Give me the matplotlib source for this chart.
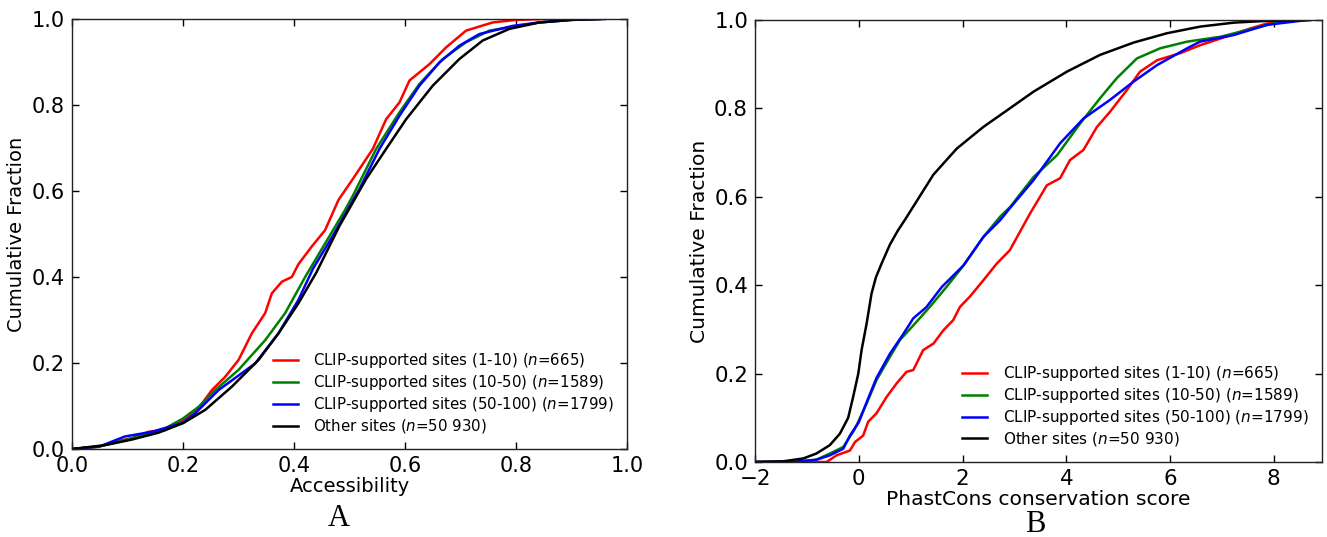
import matplotlib
matplotlib.use('Agg')
import matplotlib.pyplot as plt
from matplotlib.ticker import FormatStrFormatter

# ---- Panel A: accessibility CDFs ----
acc_red_x = [0.0, 0.047, 0.077, 0.108, 0.138, 0.168, 0.2, 0.228, 0.252, 0.276, 0.30, 0.324, 0.348,
             0.36, 0.378, 0.396, 0.408, 0.432, 0.456, 0.48, 0.506, 0.542, 0.566, 0.59, 0.608, 0.644,
             0.674, 0.71, 0.758, 0.80, 0.85]
acc_red_y = [0.0, 0.005, 0.017, 0.025, 0.040, 0.044, 0.067, 0.095, 0.137, 0.168, 0.207, 0.269, 0.316,
             0.362, 0.389, 0.40, 0.43, 0.471, 0.509, 0.579, 0.628, 0.698, 0.767, 0.806, 0.857, 0.895,
             0.934, 0.973, 0.992, 0.998, 1.0]

acc_green_x = [0.0, 0.047, 0.108, 0.168, 0.2, 0.228, 0.258, 0.30, 0.348, 0.384, 0.42, 0.456, 0.492,
               0.506, 0.548, 0.59, 0.626, 0.668, 0.71, 0.752, 0.842, 0.9, 0.95]
acc_green_y = [0.0, 0.005, 0.025, 0.048, 0.071, 0.098, 0.137, 0.184, 0.253, 0.316, 0.40, 0.478, 0.556,
               0.589, 0.698, 0.783, 0.849, 0.907, 0.946, 0.973, 0.992, 0.998, 1.0]

acc_blue_x = [0.0, 0.05, 0.095, 0.144, 0.2, 0.222, 0.264, 0.33, 0.372, 0.408, 0.434, 0.47, 0.518,
              0.554, 0.59, 0.626, 0.662, 0.698, 0.734, 0.794, 0.842, 0.9, 0.95]
acc_blue_y = [0.0, 0.006, 0.029, 0.04, 0.061, 0.083, 0.137, 0.199, 0.269, 0.347, 0.419, 0.496, 0.605,
              0.698, 0.775, 0.845, 0.899, 0.938, 0.965, 0.984, 0.992, 0.998, 1.0]

acc_black_x = [0.0, 0.06, 0.108, 0.156, 0.2, 0.24, 0.288, 0.336, 0.372, 0.408, 0.44, 0.482, 0.53,
               0.566, 0.602, 0.65, 0.698, 0.74, 0.788, 0.842, 0.9, 0.96]
acc_black_y = [0.0, 0.009, 0.022, 0.038, 0.06, 0.091, 0.145, 0.207, 0.269, 0.339, 0.41, 0.519, 0.628,
               0.698, 0.767, 0.845, 0.907, 0.95, 0.977, 0.992, 0.998, 1.0]

# ---- Panel B: PhastCons CDFs ----
pc_red_x = [-2.0, -0.62, -0.43, -0.17, -0.075, 0.085, 0.18, 0.34, 0.535, 0.73, 0.92, 1.05, 1.24, 1.44,
            1.63, 1.82, 1.95, 2.14, 2.40, 2.66, 2.91, 3.30, 3.625, 3.88, 4.07, 4.33, 4.59, 4.84, 5.17,
            5.42, 5.75, 6.20, 6.58, 6.97, 7.55, 7.87, 8.25, 8.5]
pc_red_y = [0.0, 0.0, 0.015, 0.026, 0.045, 0.06, 0.091, 0.11, 0.147, 0.178, 0.204, 0.208, 0.253, 0.268,
            0.298, 0.321, 0.351, 0.374, 0.411, 0.449, 0.479, 0.562, 0.626, 0.642, 0.683, 0.706, 0.758,
            0.792, 0.842, 0.883, 0.909, 0.925, 0.943, 0.958, 0.981, 0.992, 0.998, 1.0]

pc_green_x = [-2.0, -1.27, -0.82, -0.56, -0.30, -0.11, -0.043, 0.15, 0.34, 0.60, 0.794, 1.05, 1.37,
              1.69, 2.02, 2.40, 2.724, 2.917, 3.37, 3.82, 4.268, 4.65, 4.97, 5.36, 5.81, 6.33, 6.97,
              7.61, 8.06, 8.39, 8.6]
pc_green_y = [0.0, 0.0, 0.005, 0.019, 0.034, 0.068, 0.083, 0.132, 0.185, 0.238, 0.276, 0.309, 0.351,
              0.396, 0.445, 0.509, 0.555, 0.577, 0.645, 0.694, 0.766, 0.823, 0.868, 0.913, 0.936, 0.951,
              0.962, 0.981, 0.994, 0.998, 1.0]

pc_blue_x = [-2.0, -1.2, -0.82, -0.56, -0.30, -0.17, 0.0, 0.15, 0.34, 0.60, 0.86, 1.05, 1.30, 1.60,
             2.02, 2.40, 2.724, 2.917, 3.37, 3.88, 4.33, 4.84, 5.29, 5.75, 6.33, 6.58, 7.23, 7.87,
             8.51, 8.7]
pc_blue_y = [0.0, 0.001, 0.005, 0.015, 0.03, 0.06, 0.09, 0.135, 0.19, 0.245, 0.29, 0.325, 0.35, 0.396,
             0.445, 0.509, 0.547, 0.575, 0.638, 0.721, 0.777, 0.819, 0.86, 0.898, 0.936, 0.951, 0.966,
             0.989, 0.998, 1.0]

pc_black_x = [-2.0, -1.46, -1.07, -0.82, -0.56, -0.365, -0.205, -0.11, -0.01, 0.053, 0.15, 0.245,
              0.33, 0.45, 0.6, 0.75, 0.9, 1.115, 1.437, 1.888, 2.40, 2.85, 3.37, 4.01, 4.65, 5.30,
              5.94, 6.58, 7.23, 7.87, 8.70]
pc_black_y = [0.0, 0.0015, 0.008, 0.019, 0.038, 0.064, 0.10, 0.147, 0.20, 0.253, 0.313, 0.381,
              0.418, 0.452, 0.492, 0.523, 0.55, 0.59, 0.65, 0.709, 0.758, 0.795, 0.838, 0.883, 0.921,
              0.949, 0.970, 0.985, 0.994, 0.998, 1.0]

labels = ['CLIP-supported sites (1-10) ($n$=665)',
          'CLIP-supported sites (10-50) ($n$=1589)',
          'CLIP-supported sites (50-100) ($n$=1799)',
          'Other sites ($n$=50 930)']
colors = ['#ff0000', '#008000', '#0000ff', '#000000']

fig = plt.figure(figsize=(13.27, 5.37), dpi=100)
ax1 = fig.add_axes([0.0543, 0.1639, 0.4182, 0.8007])
ax2 = fig.add_axes([0.5690, 0.1397, 0.4273, 0.8231])

acc = [(acc_red_x, acc_red_y), (acc_green_x, acc_green_y),
       (acc_blue_x, acc_blue_y), (acc_black_x, acc_black_y)]
pc = [(pc_red_x, pc_red_y), (pc_green_x, pc_green_y),
      (pc_blue_x, pc_blue_y), (pc_black_x, pc_black_y)]

for (x, y), c, lab in zip(acc, colors, labels):
    ax1.plot(x, y, color=c, lw=1.8, label=lab)
for (x, y), c, lab in zip(pc, colors, labels):
    ax2.plot(x, y, color=c, lw=1.8, label=lab)

ax1.set_xlim(0, 1.0)
ax1.set_ylim(0, 1.0)
ax2.set_xlim(-2, 8.93)
ax2.set_ylim(0, 1.0)
ax1.set_xticks([0.0, 0.2, 0.4, 0.6, 0.8, 1.0])
ax2.set_xticks([-2, 0, 2, 4, 6, 8])

for ax, tsize, lsize, fsize in ((ax1, 15, 14, 10.8), (ax2, 15.4, 14.6, 11)):
    ax.set_yticks([0.0, 0.2, 0.4, 0.6, 0.8, 1.0])
    ax.tick_params(direction='in', top=True, right=True, length=5, width=1,
                   labelsize=tsize, pad=5)
    for sp in ax.spines.values():
        sp.set_linewidth(1.0)
        sp.set_color('#222222')
    ax.set_ylabel('Cumulative Fraction', fontsize=lsize, labelpad=4)
    ax.legend(loc='lower right', bbox_to_anchor=(1.0, 0.0), frameon=False, fontsize=fsize,
              handlelength=1.65, handletextpad=1.0, labelspacing=0.2, borderaxespad=0.5)
    ax.yaxis.set_major_formatter(FormatStrFormatter('%.1f'))

ax1.xaxis.set_major_formatter(FormatStrFormatter('%.1f'))

ax1.set_xlabel('Accessibility', fontsize=14, labelpad=1)
ax2.set_xlabel('PhastCons conservation score', fontsize=14.6, labelpad=1)

fig.text(339 / 1327, 1 - 519 / 537, 'A', fontsize=22, family='Liberation Serif',
         ha='center', va='center')
fig.text(1035 / 1327, 1 - 525 / 537, 'B', fontsize=22, family='Liberation Serif',
         ha='center', va='center')

plt.savefig('out.png', dpi=100)
plt.close()
